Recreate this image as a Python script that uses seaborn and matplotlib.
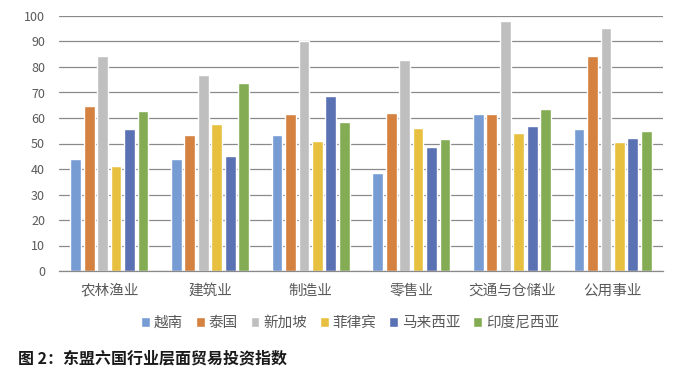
import matplotlib
matplotlib.use("Agg")
import matplotlib.pyplot as plt
import seaborn as sns
import pandas as pd

categories = ["农林渔业", "建筑业", "制造业", "零售业", "交通与仓储业", "公用事业"]
countries = ["越南", "泰国", "新加坡", "菲律宾", "马来西亚", "印度尼西亚"]
vietnam = [43.8, 43.8, 53.2, 38.4, 61.4, 55.8]
thailand = [64.7, 53.3, 61.4, 61.8, 61.7, 84.4]
singapore = [84.2, 76.7, 90.1, 82.7, 97.9, 95.3]
philippines = [41.3, 57.5, 50.8, 56.2, 54.0, 50.7]
malaysia = [55.6, 45.2, 68.5, 48.6, 56.7, 52.2]
indonesia = [62.7, 73.9, 58.6, 51.8, 63.7, 55.0]
yticks = [0, 10, 20, 30, 40, 50, 60, 70, 80, 90, 100]
colors = ["#779CD4", "#D5813F", "#BFBFBF", "#E8C040", "#5A71B4", "#84AC54"]

series = [vietnam, thailand, singapore, philippines, malaysia, indonesia]
rows = []
for c, vals in zip(countries, series):
    for cat, v in zip(categories, vals):
        rows.append({"行业": cat, "国家": c, "指数": v})
df = pd.DataFrame(rows)

sns.set_theme(style="white")
plt.rcParams["font.family"] = ["Noto Sans CJK SC", "DejaVu Sans"]

fig = plt.figure(figsize=(6.79, 3.78), dpi=100)
ax = fig.add_axes([59/679, 1-271/378, (663-59)/679, (271-16)/378])

sns.barplot(data=df, x="行业", y="指数", hue="国家", hue_order=countries,
            order=categories, palette=colors, ax=ax, width=0.8,
            saturation=1, legend=True)

for p in ax.patches:
    w = p.get_width()
    if w > 0:
        x = p.get_x()
        nw = w * 0.8
        p.set_x(x + (w - nw) / 2)
        p.set_width(nw)

ax.set_ylim(0, 100)
ax.set_yticks(yticks)
ax.set_xlim(-0.5, len(categories) - 0.5)
ax.yaxis.grid(True, color="#8a8a8a", linewidth=0.9)
ax.set_axisbelow(True)
for s in ["top", "right", "left"]:
    ax.spines[s].set_visible(False)
ax.spines["bottom"].set_color("#8a8a8a")
ax.spines["bottom"].set_linewidth(0.9)
ax.tick_params(axis="y", length=0, labelsize=9, labelcolor="#595959", pad=10)
ax.tick_params(axis="x", length=0, labelsize=10.5, labelcolor="#595959", pad=9)
ax.set_xlabel("")
ax.set_ylabel("")

handles, labels = ax.get_legend_handles_labels()
ax.legend_.remove()
fig.legend(handles, labels, loc="center", bbox_to_anchor=(350/679, 1-323/378),
           ncol=6, frameon=False, fontsize=10.5, handlelength=0.6, handleheight=0.6,
           handletextpad=0.25, columnspacing=0.9, labelcolor="#595959")

fig.text(18/679, 1-358/378, "图 2：东盟六国行业层面贸易投资指数", fontsize=11.5,
         fontweight="bold", va="center", ha="left", color="#1a1a1a")

fig.savefig("out.png", dpi=100)
